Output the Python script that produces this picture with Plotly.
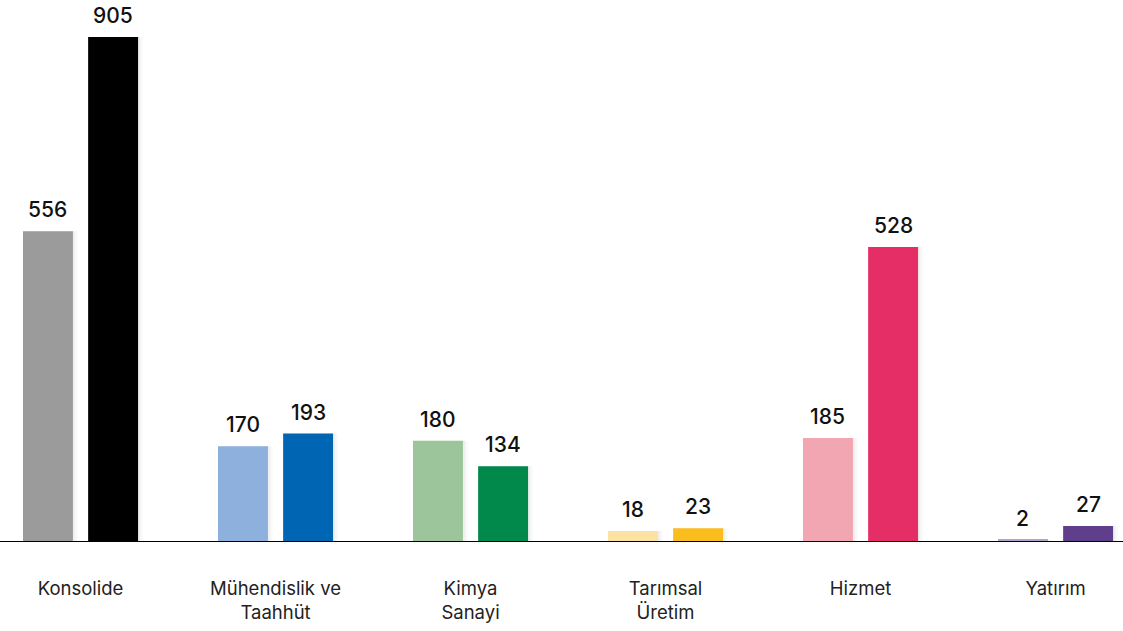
import plotly.graph_objects as go

# Data
categories = ['Konsolide', 'Mühendislik ve<br>Taahhüt', 'Kimya<br>Sanayi',
              'Tarımsal<br>Üretim', 'Hizmet', 'Yatırım']
values_first = [556, 170, 180, 18, 185, 2]
values_second = [905, 193, 134, 23, 528, 27]

colors_first = ['#9b9b9b', '#8eb0dc', '#9cc59c', '#fde3a2', '#f2a6b1', '#b2a3cc']
colors_second = ['#000000', '#0066b3', '#00894a', '#fbbd1e', '#e62e66', '#5f3f8b']

FONT = 'Inter'
bar_w = 0.256
off1 = -0.167 - bar_w / 2
off2 = 0.167 - bar_w / 2
idx = list(range(len(categories)))

fig = go.Figure()

# Soft drop shadow behind each bar
for vals, off in [(values_first, off1), (values_second, off2)]:
    for k, alpha in enumerate([0.025, 0.04]):
        fig.add_trace(go.Bar(
            x=idx, y=vals, width=bar_w + 0.022 - k * 0.01, offset=off + 0.003 - k * 0.003,
            marker=dict(color=f'rgba(0,0,0,{alpha})', line=dict(width=0)),
            hoverinfo='skip', showlegend=False,
        ))

fig.add_trace(go.Bar(
    x=idx, y=values_first, width=bar_w, offset=off1,
    marker=dict(color=colors_first, line=dict(width=0)),
    showlegend=False,
))
fig.add_trace(go.Bar(
    x=idx, y=values_second, width=bar_w, offset=off2,
    marker=dict(color=colors_second, line=dict(width=0)),
    showlegend=False,
))

# Value labels above the bars
for i in idx:
    for vals, off in [(values_first, off1), (values_second, off2)]:
        fig.add_annotation(
            x=i + off + bar_w / 2, y=vals[i], text=str(vals[i]),
            showarrow=False, yanchor='bottom', yshift=7,
            font=dict(size=21, color='#111111', family=FONT, weight=500),
        )

fig.update_layout(
    barmode='overlay',
    width=1123, height=631,
    margin=dict(l=0, r=0, t=0, b=90, autoexpand=False),
    paper_bgcolor='white',
    plot_bgcolor='white',
    font=dict(family=FONT, color='#222222'),
    xaxis=dict(
        range=[-0.413, 5.346],
        tickmode='array', tickvals=idx, ticktext=categories,
        tickfont=dict(size=18.5, color='#222222', family=FONT),
        showline=True, linecolor='#000000', linewidth=1,
        showgrid=False, zeroline=False, ticks='',
        ticklabelstandoff=31, automargin=False,
    ),
    yaxis=dict(
        range=[0, 971.4], visible=False, showgrid=False, zeroline=False,
        automargin=False,
    ),
)

# drop the default body margin so the figure sits at the page corner
fig.write_html("out.html", config={'displayModeBar': False},
               post_script="document.body.style.margin='0';")
